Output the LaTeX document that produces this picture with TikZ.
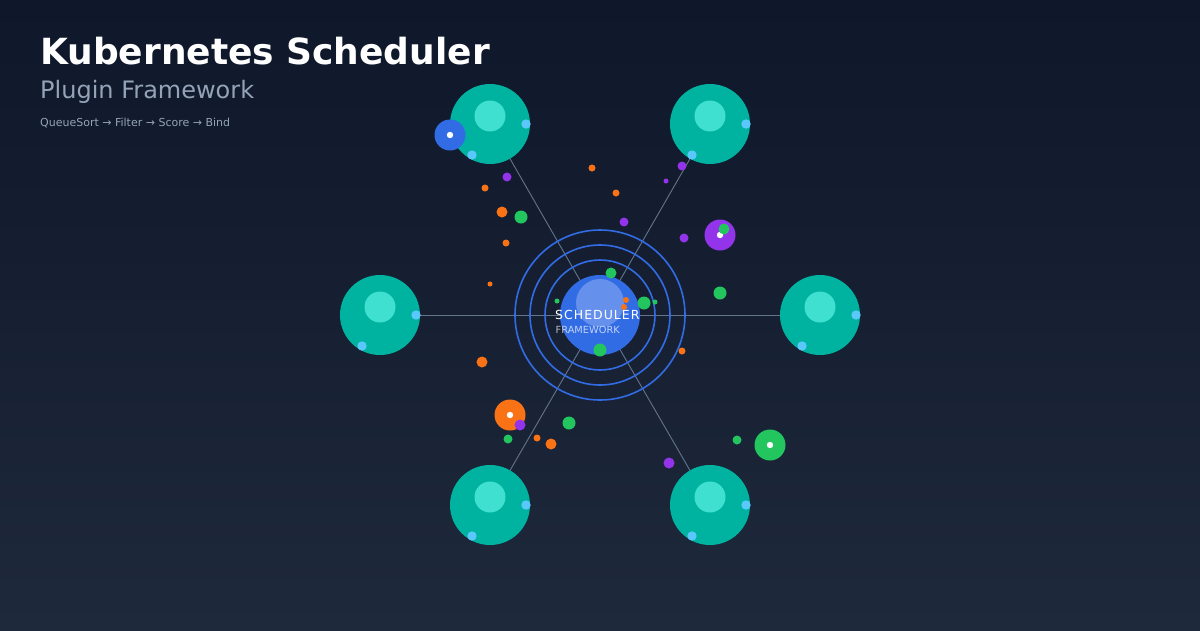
\documentclass[tikz,border=0pt]{standalone}
\usepackage{fontspec}
\setmainfont{DejaVu Sans}
\newfontfamily\spacedfont[LetterSpace=8]{DejaVu Sans}
\usetikzlibrary{calc}
\definecolor{bgtop}{HTML}{0F172A}
\definecolor{bgbot}{HTML}{1E293B}
\definecolor{k8s}{HTML}{326CE5}
\definecolor{tealc}{HTML}{00B3A0}
\definecolor{turq}{HTML}{40E0D0}
\definecolor{sky}{HTML}{5AC8FA}
\definecolor{slatel}{HTML}{94A3B8}
\definecolor{slatem}{HTML}{64748B}
\definecolor{orangec}{HTML}{F97316}
\definecolor{greenc}{HTML}{22C55E}
\definecolor{purplec}{HTML}{9333EA}
\tikzset{
  link/.style={draw=slatem, line width=0.9pt},
  ring/.style={draw=k8s, line width=1.6pt},
  plugin/.style={circle, fill=tealc, minimum size=80pt, inner sep=0pt},
}
\begin{document}
\begin{tikzpicture}[x=1pt,y=-1pt]
\useasboundingbox (0,0) rectangle (1200,630);
\shade[top color=bgtop, bottom color=bgbot] (0,0) rectangle (1200,630);

% title
\node[anchor=base west, inner sep=0pt, text=white, font=\bfseries\fontsize{36}{40}\selectfont] (title) at (40,64) {Kubernetes Scheduler};
\node[anchor=base west, inner sep=0pt, text=slatel, font=\fontsize{24}{28}\selectfont] (subtitle) at (40,98.5) {Plugin Framework};
\node[anchor=base west, inner sep=0pt, text=slatel, font=\fontsize{11}{13}\selectfont] (flow) at (40,126) {QueueSort → Filter → Score → Bind};

% positions
\coordinate (c) at (600,315);
\coordinate (p1) at (490,124);
\coordinate (p2) at (710,124);
\coordinate (p3) at (380,315);
\coordinate (p4) at (820,315);
\coordinate (p5) at (490,505);
\coordinate (p6) at (710,505);

% connectors
\foreach \p in {p1,p2,p3,p4,p5,p6} \draw[link] (c) -- (\p);

% rings
\draw[ring] (c) circle (55);
\draw[ring] (c) circle (70);
\draw[ring] (c) circle (85);

% center
\node[circle, fill=k8s, minimum size=80pt, inner sep=0pt] (core) at (c) {};
\fill[white, opacity=0.25] (600,303) circle (24);
\node[anchor=base west, inner sep=0pt, text=white, font=\spacedfont\fontsize{12.5}{14}\selectfont] (lbl) at (555,319.5) {SCHEDULER};
\node[anchor=base west, inner sep=0pt, text=white, opacity=0.7, font=\fontsize{9.8}{11}\selectfont] (lbl2) at (555.5,333) {FRAMEWORK};

% plugin nodes
\foreach \p/\n in {p1/n1,p2/n2,p3/n3,p4/n4,p5/n5,p6/n6}{
  \node[plugin] (\n) at (\p) {};
  \fill[turq] ($(\p)+(0,-8)$) circle (15.5);
  \fill[sky] ($(\p)+(36,0)$) circle (4.7);
  \fill[sky] ($(\p)+(-18,31)$) circle (4.7);
}

% particles
\foreach \x/\y/\r in {592/168/3.5,485/188/3.5,616/193/3.5,502/212/5.5,506/243/3.5,490/284/2.5,626/300/3,624/307/3,682/351/3.5,482/362/5.5,537/438/3.5,551/444/5.5}
  \fill[orangec] (\x,\y) circle (\r);
\foreach \x/\y/\r in {507/177/4.5,682/166/4.5,666/181/2.5,624/222/4.5,684/238/4.5,669/463/5.5}
  \fill[purplec] (\x,\y) circle (\r);
\foreach \x/\y/\r in {521/217/6.5,611/273/5.5,720/293/6.5,557/301/2.5,644/303/6.5,655/302/2.5,600/350/6.5,569/423/6.5,508/439/4.5,737/440/4.5}
  \fill[greenc] (\x,\y) circle (\r);

% big particles
\foreach \x/\y/\c in {450/135/k8s,720/235/purplec,510/415/orangec,770/445/greenc}{
  \fill[\c] (\x,\y) circle (15.5);
  \fill[white] (\x,\y) circle (3.2);
}
\fill[greenc] (724,229) circle (5.5);
\fill[purplec] (520,425) circle (5.5);
\end{tikzpicture}
\end{document}
